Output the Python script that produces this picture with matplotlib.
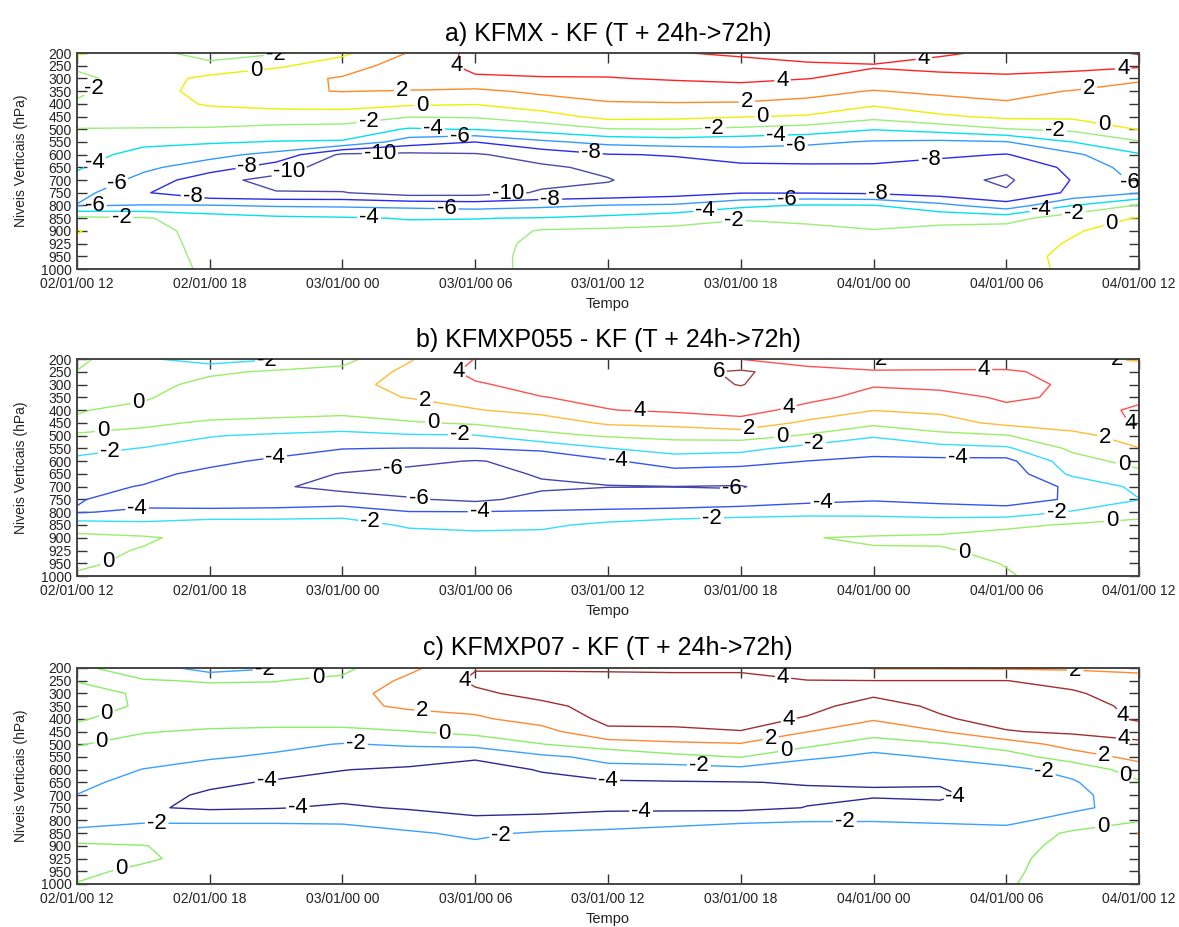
import matplotlib
matplotlib.use('Agg')
import matplotlib.pyplot as plt
import numpy as np

plt.rcParams['font.family'] = ['Liberation Sans', 'DejaVu Sans']

# eixo do tempo (horas a partir de 02/01/00 12) e niveis de pressao
horas = [0, 3, 6, 9, 12, 15, 18, 21, 24, 27, 30, 33, 36, 39, 42, 45, 48]
niveis = ['200', '250', '300', '350', '400', '450', '500', '550', '600',
          '650', '700', '750', '800', '850', '900', '925', '950', '1000']
rotulos_tempo = ['02/01/00 12', '02/01/00 18', '03/01/00 00', '03/01/00 06',
                 '03/01/00 12', '03/01/00 18', '04/01/00 00', '04/01/00 06',
                 '04/01/00 12']

# diferencas por horario (cada lista = perfil vertical de 200 a 1000 hPa)
kfmx = [
    [0.3, -1.7, -2.4, -2.3, -1.8, -1.3, -2.05, -2.7, -3.3, -3.8, -4.5, -5.3, -6.1, -1.5, 0.1, -0.3, -1.0, -1.3],
    [-1.5, -1.4, -1.2, -1.0, -0.9, -1.2, -2.1, -3.6, -4.6, -5.6, -6.6, -7.8, -5.9, -1.8, -1.2, -1.0, -1.0, -1.1],
    [-2.6, -1.6, 0.6, 0.8, 0.2, -0.9, -2.2, -3.8, -5.4, -7.0, -9.4, -9.6, -5.9, -3.0, -2.8, -2.7, -2.5, -2.3],
    [-2.2, -0.3, 1.3, 1.8, 0.6, -0.9, -2.6, -4.1, -6.6, -9.0, -10.6, -9.9, -6.2, -3.6, -3.0, -2.9, -2.7, -2.5],
    [-0.4, 1.0, 2.2, 2.05, 0.8, -1.0, -2.7, -4.2, -10.4, -11.2, -11.0, -9.9, -6.3, -3.8, -3.1, -2.9, -2.8, -2.6],
    [2.1, 3.0, 3.3, 1.9, 0.3, -1.9, -4.2, -7.0, -10.5, -11.5, -11.6, -10.9, -6.5, -4.1, -3.3, -3.0, -2.9, -2.8],
    [4.6, 4.4, 3.8, 1.6, 0.1, -1.8, -3.9, -8.0, -10.2, -11.8, -11.5, -10.8, -6.8, -4.05, -3.3, -3.0, -2.9, -2.9],
    [5.0, 4.6, 3.9, 2.4, 1.0, -0.8, -3.2, -6.4, -9.2, -10.3, -10.5, -9.8, -6.4, -3.9, -1.8, -1.4, -1.3, -1.3],
    [5.0, 4.8, 3.9, 2.9, 1.8, 0.6, -2.1, -5.4, -8.1, -9.6, -10.1, -9.5, -5.9, -3.5, -1.6, -1.2, -1.0, -1.0],
    [4.1, 4.6, 4.2, 2.9, 1.9, 0.5, -2.0, -5.0, -7.9, -8.6, -9.0, -8.9, -5.7, -2.8, -1.5, -1.0, -0.9, -0.9],
    [3.7, 4.7, 4.4, 3.2, 1.8, 0.1, -2.4, -5.3, -7.0, -8.5, -8.8, -8.1, -4.4, -2.1, -1.5, -1.0, -0.8, -0.8],
    [3.0, 4.4, 4.05, 2.6, 1.5, -0.2, -2.9, -5.6, -7.2, -8.3, -8.6, -8.1, -3.8, -2.6, -1.3, -0.8, -0.7, -0.7],
    [2.9, 4.15, 3.4, 1.9, 0.3, -1.4, -3.9, -6.2, -7.5, -8.2, -8.6, -8.3, -3.9, -2.8, -1.9, -1.2, -1.0, -0.9],
    [3.8, 4.5, 3.5, 2.4, 1.2, -0.3, -3.2, -6.4, -7.6, -8.9, -9.4, -9.0, -5.4, -2.6, -1.5, -0.9, -0.7, -0.6],
    [4.3, 4.4, 3.8, 2.6, 1.8, 0.4, -2.1, -6.1, -8.1, -9.6, -10.3, -9.8, -7.2, -2.8, -1.0, -0.5, -0.4, -0.4],
    [4.3, 4.4, 3.5, 1.9, 1.3, 0.4, -1.6, -4.0, -6.4, -7.5, -7.9, -7.6, -4.0, -0.8, -0.1, 0.1, 0.25, 0.2],
    [3.95, 4.3, 2.2, 1.5, 1.0, 0.5, 0.1, -2.2, -4.2, -5.0, -5.6, -6.1, -1.8, 0.1, 0.5, 0.6, 0.6, 0.6],
]

kfmxp055 = [
    [0.5, -0.05, -0.5, -0.6, -0.1, 0.2, -0.05, -1.3, -2.5, -3.0, -3.5, -3.9, -4.1, -1.0, 0.5, 0.4, 0.3, -0.2],
    [-1.7, -1.3, -0.8, -0.2, 0.4, 0.3, -0.5, -2.1, -2.8, -3.5, -4.1, -4.6, -3.7, -1.4, 0.2, -0.1, -0.4, -0.6],
    [-3.0, -0.4, 0.7, 1.0, 0.7, -0.2, -1.9, -2.7, -3.5, -4.5, -5.2, -5.4, -3.4, -0.9, -0.5, -0.5, -0.6, -0.7],
    [-2.1, 0.3, 1.0, 1.2, 0.6, -0.4, -2.3, -3.1, -4.4, -5.2, -5.8, -5.5, -3.2, -1.0, -0.6, -0.5, -0.6, -0.7],
    [-0.6, 0.5, 1.4, 1.6, 0.6, -0.8, -2.6, -3.95, -5.0, -6.1, -6.5, -5.2, -2.9, -1.0, -0.5, -0.4, -0.5, -0.6],
    [1.8, 2.5, 2.6, 2.05, 1.2, -0.2, -2.2, -4.05, -5.6, -6.5, -6.9, -5.8, -3.9, -2.3, -1.1, -0.8, -0.7, -0.7],
    [4.05, 4.5, 3.8, 2.8, 1.9, 0.3, -2.1, -4.02, -6.1, -6.7, -6.9, -6.4, -3.9, -2.6, -1.3, -0.9, -0.8, -0.8],
    [4.5, 5.2, 4.6, 3.95, 2.6, 1.0, -0.5, -3.6, -5.5, -5.8, -6.3, -5.4, -3.8, -2.4, -1.3, -0.9, -0.8, -0.8],
    [4.4, 5.3, 5.2, 4.4, 3.95, 2.3, 0.2, -2.05, -4.3, -5.6, -6.05, -5.0, -3.7, -1.5, -1.2, -0.9, -0.8, -0.8],
    [4.05, 5.4, 5.5, 5.0, 4.3, 2.6, 0.6, -1.2, -3.0, -4.8, -6.02, -5.3, -3.4, -0.8, -0.6, -0.5, -0.5, -0.5],
    [3.95, 6.3, 6.05, 5.5, 4.7, 3.3, 0.8, -1.4, -3.3, -5.0, -6.1, -5.4, -2.8, -0.8, -0.6, -0.6, -0.7, -0.8],
    [2.8, 4.9, 5.2, 4.5, 3.4, 1.6, -0.2, -2.7, -4.02, -4.7, -5.0, -4.6, -2.6, -0.6, -0.05, -0.4, -0.5, -0.5],
    [1.95, 4.3, 4.15, 3.4, 2.05, 0.5, -1.8, -3.3, -4.4, -4.8, -5.0, -4.2, -2.5, -0.9, 0.15, -0.1, -0.3, -0.4],
    [2.4, 4.3, 4.4, 3.5, 2.4, 1.2, -0.5, -2.7, -4.5, -5.0, -5.2, -4.7, -2.6, -1.2, 0.4, -0.2, -0.4, -0.5],
    [2.6, 4.3, 4.6, 4.2, 3.7, 2.5, -0.1, -2.3, -4.6, -5.2, -5.4, -5.0, -3.0, -0.4, 0.8, 0.5, 0.05, -0.1],
    [2.2, 3.3, 3.7, 3.8, 3.6, 2.9, 1.5, 0.4, -0.8, -1.6, -3.6, -3.7, -1.8, 0.2, 0.6, 0.7, 0.6, 0.5],
    [1.8, 3.0, 3.5, 3.8, 4.15, 4.2, 2.8, 1.95, 0.7, -0.5, -1.5, -2.05, -0.7, 0.6, 0.9, 1.0, 1.0, 1.0],
]

kfmxp07 = [
    [0.3, 0.05, -0.4, -0.5, -0.1, 0.3, 0.1, -0.5, -1.0, -1.5, -2.03, -2.9, -2.7, -1.5, 0.4, 0.5, 0.3, -0.05],
    [-0.8, 0.1, 0.15, 0.15, 0.4, 0.1, -0.6, -1.3, -2.05, -2.7, -3.3, -3.8, -2.3, -0.9, 0.05, 0.2, -0.3, -0.5],
    [-3.0, -0.1, 0.5, 0.7, 0.7, -0.2, -1.0, -1.8, -2.8, -3.6, -4.3, -4.3, -2.3, -1.0, -0.6, -0.5, -0.5, -0.5],
    [-2.1, -0.03, 0.3, 0.7, 0.6, -0.3, -1.5, -2.3, -3.3, -4.2, -4.6, -4.1, -2.3, -1.0, -0.7, -0.6, -0.6, -0.6],
    [-0.4, 0.3, 1.4, 1.5, 1.0, -0.5, -2.1, -3.1, -3.95, -4.6, -4.6, -3.7, -2.4, -1.0, -0.7, -0.6, -0.6, -0.6],
    [1.5, 2.5, 2.7, 2.3, 1.2, -0.05, -1.8, -3.0, -4.3, -4.7, -4.6, -4.2, -2.8, -1.8, -1.0, -0.8, -0.7, -0.7],
    [3.9, 4.3, 3.7, 2.6, 1.7, 0.6, -1.4, -3.8, -4.6, -4.9, -4.9, -4.5, -3.7, -2.3, -1.7, -1.2, -1.0, -1.0],
    [3.8, 4.6, 4.5, 3.6, 2.8, 1.3, -0.05, -2.4, -3.9, -4.4, -4.7, -4.6, -3.4, -1.8, -1.3, -1.0, -0.9, -0.9],
    [3.7, 4.7, 4.8, 4.6, 4.4, 3.7, 1.0, -1.5, -2.5, -4.3, -4.6, -4.3, -3.2, -1.5, -1.1, -0.9, -0.8, -0.8],
    [3.6, 4.7, 4.9, 4.8, 4.5, 3.7, 1.6, -0.5, -3.0, -4.1, -4.3, -4.4, -2.8, -1.1, -0.8, -0.6, -0.5, -0.5],
    [3.6, 4.7, 5.0, 4.9, 4.6, 3.95, 1.85, 0.05, -2.6, -4.05, -4.3, -4.5, -2.3, -1.0, -0.6, -0.5, -0.4, -0.4],
    [3.0, 4.05, 4.5, 4.5, 3.85, 2.05, 0.5, -1.6, -3.4, -3.9, -4.3, -3.95, -2.1, -1.0, -0.4, -0.3, -0.3, -0.3],
    [1.85, 4.02, 4.3, 3.3, 2.15, 1.0, -1.1, -2.5, -3.5, -3.9, -4.15, -3.5, -2.1, -0.9, -0.5, -0.4, -0.4, -0.4],
    [1.85, 4.02, 4.5, 4.3, 3.8, 1.9, -0.2, -1.8, -3.0, -3.9, -4.2, -3.7, -2.3, -1.0, -0.6, -0.5, -0.5, -0.5],
    [1.8, 4.02, 4.6, 4.7, 4.6, 3.9, 0.9, -0.9, -2.5, -3.0, -3.5, -3.0, -2.5, -1.2, -0.5, -0.3, -0.2, -0.1],
    [1.7, 3.5, 4.2, 4.5, 4.4, 4.3, 2.8, 1.0, -1.4, -2.2, -2.5, -2.4, -1.2, 0.3, 0.4, 0.5, 0.5, 0.5],
    [1.6, 2.6, 3.2, 3.7, 3.9, 4.4, 3.8, 2.6, 1.0, -0.2, -0.9, -1.2, -0.2, 2.05, 1.2, 0.9, 0.8, 0.7],
]

# onde escrever o valor de cada isolinha (hora, indice do nivel)
rotulos_a = {
    4: [(16.3, 1.3), (31.9, 2.5), (38.3, 0.8), (47.3, 1.6)],
    2: [(14.7, 3.3), (30.3, 4.4), (45.8, 3.6)],
    0: [(8.1, 1.5), (15.6, 4.5), (31.0, 5.4), (46.4, 5.9), (46.8, 13.7)],
    -2: [(9.0, 0.6), (1.3, 3.3), (13.2, 5.8), (28.8, 5.9), (44.2, 6.5),
         (2.0, 13.9), (29.7, 13.3), (45.1, 13.2)],
    -4: [(16.1, 6.1), (0.7, 8.2), (13.2, 13.1), (31.6, 6.9), (28.4, 12.4),
         (43.6, 12.6)],
    -6: [(17.3, 6.7), (1.8, 10.2), (0.8, 12.2), (16.7, 12.9), (32.5, 7.9),
         (32.1, 12.1), (47.5, 10.4)],
    -8: [(7.7, 9.0), (5.2, 11.8), (21.4, 12.1), (23.2, 8.4), (38.6, 8.9),
         (36.2, 11.3)],
    -10: [(9.6, 9.4), (13.7, 8.7), (19.5, 11.6)],
}
rotulos_b = {
    6: [(28.7, 1.5)],
    4: [(16.7, 1.4), (25.5, 0.6), (32.2, 4.0), (41.0, 1.0), (47.6, 5.3)],
    2: [(15.7, 3.6), (30.4, 5.6), (37.2, 0.6), (47.0, 0.8), (46.4, 6.6)],
    0: [(2.85, 4.1), (1.2, 6.1), (1.6, 16.5), (16.1, 5.3), (31.9, 6.5),
        (40.1, 15.1), (47.3, 8.4), (46.8, 12.9)],
    -2: [(8.6, 0.7), (1.5, 7.7), (13.2, 13.5), (17.3, 6.4), (33.4, 7.8),
         (28.7, 12.6), (44.3, 12.6)],
    -4: [(9.0, 8.2), (2.75, 12.4), (18.2, 12.5), (24.4, 8.5), (33.7, 11.8),
         (39.8, 8.2)],
    -6: [(14.3, 8.9), (15.4, 11.4), (29.6, 10.4)],
}
rotulos_c = {
    4: [(17.0, 1.5), (31.9, 0.9), (32.2, 4.3), (47.0, 4.1), (47.3, 6.0)],
    2: [(15.6, 3.7), (31.4, 6.0), (45.1, 0.7), (46.4, 7.2)],
    0: [(10.9, 0.9), (1.45, 4.1), (1.2, 6.5), (2.1, 16.5), (16.6, 5.6),
        (32.1, 6.9), (47.3, 8.9), (46.4, 12.7)],
    -2: [(8.5, 0.8), (3.6, 12.8), (12.6, 6.5), (19.2, 13.5), (28.1, 8.1),
         (34.7, 12.4), (43.6, 8.9)],
    -4: [(8.6, 9.4), (10.0, 11.4), (24.0, 9.2), (25.5, 11.9), (39.7, 10.1)],
}

# isolinhas e cores de cada painel
paineis = [
    ('a) KFMX - KF (T + 24h->72h)', kfmx,
     [-10, -8, -6, -4, -2, 0, 2, 4],
     ['#4a4aa8', '#2a2aee', '#3399ff', '#00e0ee', '#99ee77', '#eeee00', '#ff8822', '#ff2222'],
     rotulos_a),
    ('b) KFMXP055 - KF (T + 24h->72h)', kfmxp055,
     [-6, -4, -2, 0, 2, 4, 6],
     ['#4646aa', '#3355ee', '#33ddff', '#99ee66', '#ffbb33', '#ff5050', '#994444'],
     rotulos_b),
    ('c) KFMXP07 - KF (T + 24h->72h)', kfmxp07,
     [-4, -2, 0, 2, 4],
     ['#2a2a90', '#3aa0ff', '#88ee66', '#ff8830', '#a03030'],
     rotulos_c),
]

# posicao dos eixos em fracao da figura
caixas = [
    [0.0653, 0.7098, 0.9008, 0.2330],
    [0.0653, 0.3786, 0.9008, 0.2341],
    [0.0653, 0.0464, 0.9008, 0.2330],
]

fig = plt.figure(figsize=(11.79, 9.27), dpi=100)

x = np.array(horas)
y = np.arange(len(niveis))

for (titulo, dados, isos, cores, pos), caixa in zip(paineis, caixas):
    ax = fig.add_axes(caixa)
    z = np.array(dados).T

    ax.set_xlim(0, 48)
    ax.set_ylim(len(niveis) - 1, 0)

    # cada isolinha em separado, com os rotulos nos lugares escolhidos
    for nivel, cor in zip(isos, cores):
        cs = ax.contour(x, y, z, levels=[nivel], colors=[cor],
                        linewidths=1.0, linestyles='solid')
        txt = ax.clabel(cs, fmt='%d', fontsize=16, colors='black',
                        inline=True, inline_spacing=2, manual=pos[nivel])
        for t in txt:
            t.set_rotation(0)

    ax.set_xticks(horas[::2])
    ax.set_xticklabels(rotulos_tempo)
    ax.set_yticks(y)
    ax.set_yticklabels(niveis)
    ax.tick_params(axis='both', direction='in', length=7, width=1,
                   color='#333333', labelsize=10, labelcolor='#222222')
    ax.tick_params(axis='x', top=True, pad=6)
    ax.tick_params(axis='y', right=True, pad=4)
    for s in ax.spines.values():
        s.set_color('#444444')
        s.set_linewidth(1.4)

    ax.set_title(titulo, fontsize=18, pad=9)
    ax.set_xlabel('Tempo', fontsize=10.5, labelpad=4, color='#222222')
    ax.set_ylabel('Niveis Verticais (hPa)', fontsize=10, labelpad=9,
                  color='#222222')

fig.savefig('out.png', dpi=100)
